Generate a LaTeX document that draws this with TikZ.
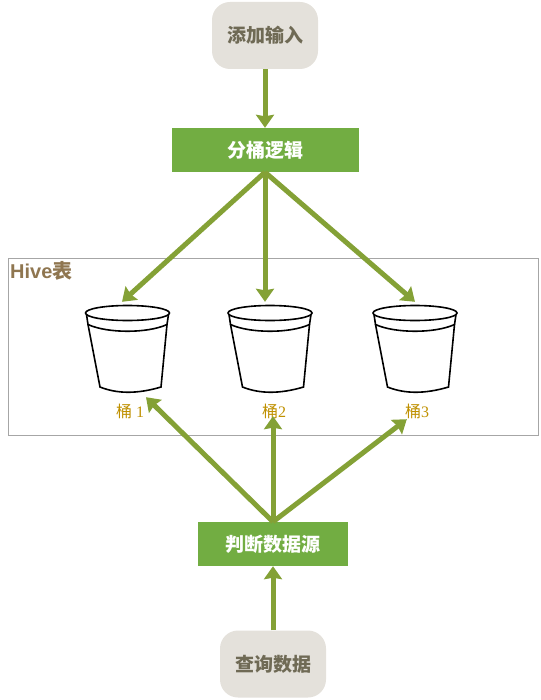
\documentclass[tikz,border=0pt]{standalone}
\usepackage{fontspec}
\setmainfont{Liberation Serif}
\newfontfamily\cjk{Noto Sans CJK SC}
\newfontfamily\hei{Liberation Sans}
\usepackage{tikz}
\usetikzlibrary{arrows.meta}
\definecolor{boxgreen}{HTML}{72AD42}
\definecolor{arrowgreen}{HTML}{84A136}
\definecolor{stonefill}{HTML}{E4E1DB}
\definecolor{stonetext}{HTML}{6F6A55}
\definecolor{hivebrown}{HTML}{8F7650}
\definecolor{bucketgold}{HTML}{BF9000}
\tikzstyle{arrow} = [line width=5pt,arrowgreen,-{Stealth[length=13pt,width=18pt,inset=1.5pt]}]
\tikzstyle{proc} = [rectangle,
minimum height=44pt,
text centered,
draw=none,
fill=boxgreen,
text=white,
font=\cjk\bfseries\fontsize{19}{21}\selectfont]
\tikzstyle{term} = [rectangle, rounded corners=18pt,
minimum width=106pt,
minimum height=67pt,
text centered,
fill=stonefill,
text=stonetext,
font=\cjk\bfseries\fontsize{19}{21}\selectfont]
\tikzstyle{bucket} = [rectangle, minimum width=85pt, minimum height=95pt, inner sep=0pt]
\tikzstyle{bucketlabel} = [inner sep=0pt, minimum width=26pt, minimum height=16pt,
text=bucketgold, font=\fontsize{16}{18}\selectfont]

\begin{document}
\begin{tikzpicture}[x=1pt,y=-1pt]
            \useasboundingbox (0,0) rectangle (540,700);

            \node (hive) [draw=black!35, line width=0.8pt, minimum width=530pt, minimum height=177pt, inner sep=0pt] at (273,346.5) {};
            \node (hivetitle) [anchor=west, inner sep=0pt, text=hivebrown, font=\bfseries\fontsize{20}{22}\selectfont] at (10,271) {\hei Hive\cjk 表};

            \node (input) [term] at (265,35.5) {添加输入};
            \node (logic) [proc, minimum width=187pt] at (265,150) {分桶逻辑};
            \node (source) [proc, minimum width=150pt] at (273,544) {判断数据源};
            \node (query) [term] at (273,664) {查询数据};

            \foreach \i/\x in {1/127.5,2/270,3/415} {
                \node (tong\i) [bucket] at (\x,349.5) {};
                \begin{scope}[shift={(tong\i.center)}, black, line width=1.6pt]
                    \draw (0,-36.5) ellipse [x radius=42, y radius=7.5];
                    \draw (-41,-35) -- (-39.5,-25) .. controls (-20,-16) and (20,-16) .. (39.5,-25) -- (41,-35);
                    \draw (-39.5,-25) -- (-27.5,37.5) .. controls (-10,44.5) and (10,44.5) .. (33.5,37.5) -- (39.5,-25);
                \end{scope}
            }
            \node (label1) [bucketlabel] at (130,411) {{\cjk 桶} 1};
            \node (label2) [bucketlabel] at (274,411) {{\cjk 桶}2};
            \node (label3) [bucketlabel] at (417,411) {{\cjk 桶}3};

            \draw [arrow] (input) -- (logic);
            \draw [arrow] (logic.south) -- ([xshift=-5.5pt]tong1.north);
            \draw [arrow] (logic.south) -- ([xshift=-5pt]tong2.north);
            \draw [arrow] (logic.south) -- (tong3.north);

            \draw [arrow] (query) -- (source);
            \draw [arrow] (source.north) -- ([xshift=18.5pt]tong1.south);
            \draw [arrow] (source.north) -- ([xshift=-1pt,yshift=3pt]label2.south);
            \draw [arrow] (source.north) -- ([xshift=3pt]label3.south west);
\end{tikzpicture}
\end{document}
